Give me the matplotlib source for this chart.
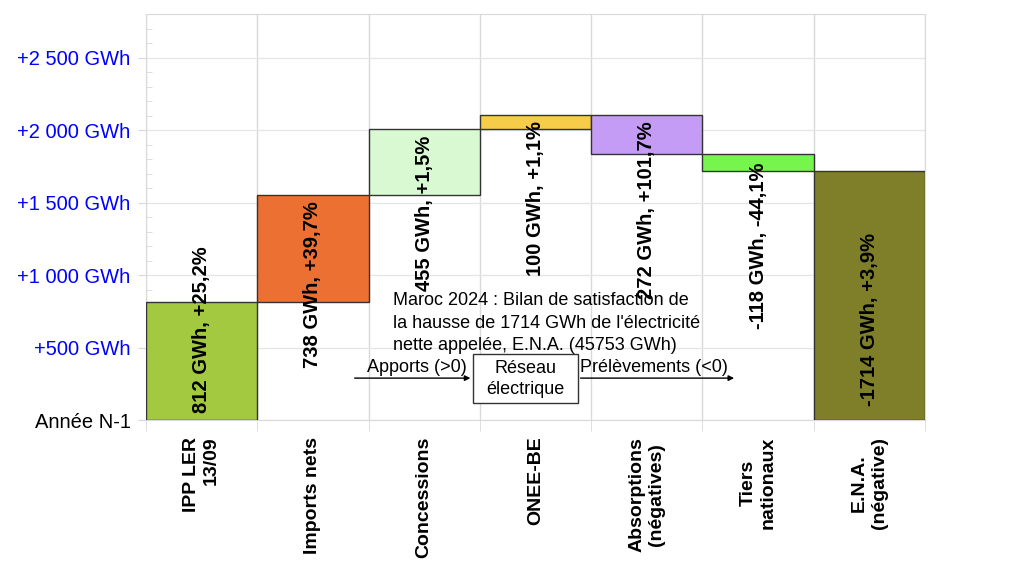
import matplotlib.pyplot as plt
from matplotlib.ticker import MultipleLocator, FixedLocator
from matplotlib.patches import Rectangle

categories = ["IPP LER\n13/09", "Imports nets", "Concessions", "ONEE-BE",
              "Absorptions\n(négatives)", "Tiers\nnationaux", "E.N.A.\n(négative)"]
deltas = [812, 738, 455, 100, -272, -118, -1714]
bar_labels = ["812 GWh, +25,2%", "738 GWh, +39,7%", "455 GWh, +1,5%",
              "100 GWh, +1,1%", "272 GWh, +101,7%", "-118 GWh, -44,1%",
              "-1714 GWh, +3,9%"]
# the last bar (E.N.A.) is drawn as the total, from zero
is_total = [False, False, False, False, False, False, True]

ytick_values = [0, 500, 1000, 1500, 2000, 2500]
ytick_labels = ["Année N-1", "+500 GWh", "+1 000 GWh", "+1 500 GWh",
                "+2 000 GWh", "+2 500 GWh"]

colors = ["#a3c940", "#ec7032", "#d8f9d2", "#f6cc48", "#c49cf5", "#76f64c", "#7f7f2a"]
label_y = [625, 935, 1425, 1530, 1445, 1200, 695]

plt.rcParams['font.family'] = ['Liberation Sans', 'DejaVu Sans']

fig = plt.figure(figsize=(10.24, 5.72), dpi=100)
ax = fig.add_axes([0.1426, 0.2657, 0.7607, 0.7098])

grid_col = "#d9d9d9"
running = 0
for i, d in enumerate(deltas):
    if is_total[i]:
        bottom, height = 0, -d
        running = 0
    else:
        bottom, height = running, d
        running += d
    ax.bar(i, height, bottom=bottom, width=1.0, color=colors[i],
           edgecolor="#333333", linewidth=1.0, zorder=3)
    ax.text(i, label_y[i], bar_labels[i], rotation=90, ha="center", va="center",
            fontsize=14.5, fontweight="bold", zorder=5)

ax.set_xlim(-0.5, len(categories) - 0.5)
ax.set_ylim(0, 2800)

ax.set_yticks(ytick_values)
ax.set_yticklabels(ytick_labels, fontsize=14.5)
for lab, v in zip(ax.get_yticklabels(), ytick_values):
    lab.set_color("black" if v == 0 else "#0000ff")
ax.yaxis.set_minor_locator(MultipleLocator(100))

ax.set_xticks(range(len(categories)))
ax.set_xticklabels(categories, rotation=90, fontsize=14, fontweight="bold",
                   va="top", ha="center", multialignment="center")
ax.get_xticklabels()[0].set_multialignment("right")
ax.xaxis.set_minor_locator(FixedLocator([i + 0.5 for i in range(-1, len(categories))]))

ax.tick_params(axis="x", which="major", length=0, pad=12)
ax.tick_params(axis="x", which="minor", length=8, color=grid_col)
ax.tick_params(axis="y", which="major", length=6, color=grid_col, pad=5)
ax.tick_params(axis="y", which="minor", length=4, color=grid_col, direction="in")

ax.grid(True, axis="y", which="major", color="#e6e6e6", linewidth=1, zorder=0)
ax.grid(True, axis="x", which="minor", color=grid_col, linewidth=1, zorder=0)
for s in ax.spines.values():
    s.set_color(grid_col)

# Explanation text and flow diagram
ax.text(1.72, 880, "Maroc 2024 : Bilan de satisfaction de\n"
        "la hausse de 1714 GWh de l'électricité\n"
        "nette appelée, E.N.A. (45753 GWh)",
        ha="left", va="top", fontsize=13, linespacing=1.4, zorder=6)

box_x0, box_x1, box_y0, box_y1 = 2.44, 3.38, 117, 455
ax.add_patch(Rectangle((box_x0, box_y0), box_x1 - box_x0, box_y1 - box_y0,
                       facecolor="white", edgecolor="#333333", linewidth=1, zorder=6))
ax.text((box_x0 + box_x1) / 2, 282, "Réseau\nélectrique", ha="center", va="center",
        fontsize=13, linespacing=1.3, zorder=7)

arrow_y = 289
ax.annotate("", xy=(box_x0, arrow_y), xytext=(1.35, arrow_y),
            arrowprops=dict(arrowstyle="-|>", color="black", lw=1, mutation_scale=8),
            zorder=6)
ax.annotate("", xy=(4.81, arrow_y), xytext=(box_x1, arrow_y),
            arrowprops=dict(arrowstyle="-|>", color="black", lw=1, mutation_scale=8),
            zorder=6)
ax.text(1.93, arrow_y + 15, "Apports (>0)", ha="center", va="bottom", fontsize=13, zorder=6)
ax.text(4.06, arrow_y + 15, "Prélèvements (<0)", ha="center", va="bottom", fontsize=13, zorder=6)

fig.savefig("out.png", dpi=100)
